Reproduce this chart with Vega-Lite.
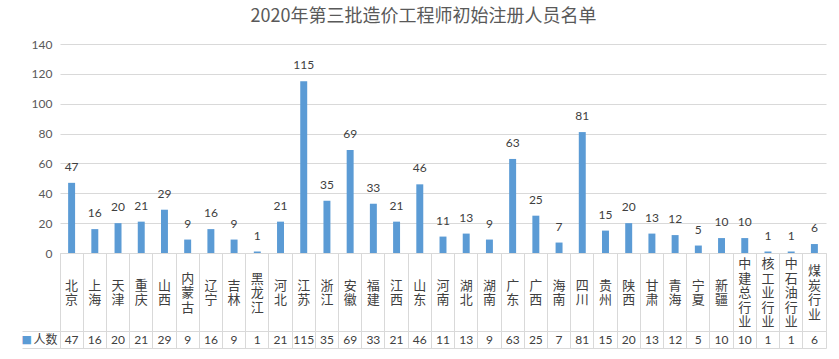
{
  "$schema": "https://vega.github.io/schema/vega-lite/v6.json",
  "background": "white",
  "padding": {"left": 20, "top": 8, "right": 5, "bottom": 5},
  "title": {
    "text": "2020年第三批造价工程师初始注册人员名单",
    "fontSize": 18,
    "fontWeight": "normal",
    "color": "#595959",
    "font": "Noto Sans CJK SC",
    "anchor": "middle",
    "offset": 12
  },
  "data": {
    "values": [
      {"name": "北京", "value": 47},
      {"name": "上海", "value": 16},
      {"name": "天津", "value": 20},
      {"name": "重庆", "value": 21},
      {"name": "山西", "value": 29},
      {"name": "内蒙古", "value": 9},
      {"name": "辽宁", "value": 16},
      {"name": "吉林", "value": 9},
      {"name": "黑龙江", "value": 1},
      {"name": "河北", "value": 21},
      {"name": "江苏", "value": 115},
      {"name": "浙江", "value": 35},
      {"name": "安徽", "value": 69},
      {"name": "福建", "value": 33},
      {"name": "江西", "value": 21},
      {"name": "山东", "value": 46},
      {"name": "河南", "value": 11},
      {"name": "湖北", "value": 13},
      {"name": "湖南", "value": 9},
      {"name": "广东", "value": 63},
      {"name": "广西", "value": 25},
      {"name": "海南", "value": 7},
      {"name": "四川", "value": 81},
      {"name": "贵州", "value": 15},
      {"name": "陕西", "value": 20},
      {"name": "甘肃", "value": 13},
      {"name": "青海", "value": 12},
      {"name": "宁夏", "value": 5},
      {"name": "新疆", "value": 10},
      {"name": "中建总行业", "value": 10},
      {"name": "核工业行业", "value": 1},
      {"name": "中石油行业", "value": 1},
      {"name": "煤炭行业", "value": 6}
    ]
  },
  "spacing": 0,
  "bounds": "flush",
  "vconcat": [
    {
      "width": 766,
      "height": 209,
      "encoding": {
        "x": {
          "field": "name",
          "type": "nominal",
          "sort": null,
          "scale": {"type": "band", "paddingInner": 0.7, "paddingOuter": 0.35},
          "axis": null
        },
        "y": {
          "field": "value",
          "type": "quantitative",
          "scale": {"domain": [0, 140], "nice": false},
          "axis": {
            "title": null,
            "values": [0, 20, 40, 60, 80, 100, 120, 140],
            "tickCount": 8,
            "grid": true,
            "gridColor": "#d9d9d9",
            "domain": false,
            "ticks": false,
            "labelPadding": 8,
            "labelFontSize": 12,
            "labelColor": "#595959",
            "labelFont": "Lato"
          }
        }
      },
      "layer": [
        {
          "mark": {"type": "bar", "color": "#5b9bd5"}
        },
        {
          "mark": {"type": "text", "baseline": "alphabetic", "dy": -12, "fontSize": 12, "color": "#404040", "font": "Lato"},
          "encoding": {
            "text": {"field": "value", "type": "quantitative"}
          }
        }
      ]
    },
    {
      "width": 766,
      "height": 78,
      "view": {"stroke": "#d9d9d9"},
      "encoding": {
        "x": {
          "field": "name",
          "type": "nominal",
          "sort": null,
          "scale": {
            "type": "band",
            "paddingInner": 0,
            "paddingOuter": 0,
            "domain": ["北京", "上海", "天津", "重庆", "山西", "内蒙古", "辽宁", "吉林", "黑龙江", "河北", "江苏", "浙江", "安徽", "福建", "江西", "山东", "河南", "湖北", "湖南", "广东", "广西", "海南", "四川", "贵州", "陕西", "甘肃", "青海", "宁夏", "新疆", "中建总行业", "核工业行业", "中石油行业", "煤炭行业"]
          },
          "axis": {"title": null, "labels": false, "ticks": false, "domain": false, "grid": true, "gridColor": "#d9d9d9", "bandPosition": 0}
        },
        "text": {"value": {"expr": "split(datum.name, '')"}}
      },
      "layer": [
        {
          "transform": [{"filter": {"not": {"field": "name", "oneOf": ["内蒙古", "黑龙江", "煤炭行业", "中建总行业", "核工业行业", "中石油行业"]}}}],
          "mark": {"type": "text", "fontSize": 13, "lineHeight": 14.5, "baseline": "middle", "dy": -6.25, "color": "#404040", "font": "Noto Sans CJK SC"}
        },
        {
          "transform": [{"filter": {"field": "name", "oneOf": ["内蒙古", "黑龙江"]}}],
          "mark": {"type": "text", "fontSize": 13, "lineHeight": 14.5, "baseline": "middle", "dy": -13.5, "color": "#404040", "font": "Noto Sans CJK SC"}
        },
        {
          "transform": [{"filter": {"field": "name", "oneOf": ["煤炭行业"]}}],
          "mark": {"type": "text", "fontSize": 13, "lineHeight": 14.5, "baseline": "middle", "dy": -20.75, "color": "#404040", "font": "Noto Sans CJK SC"}
        },
        {
          "transform": [{"filter": {"field": "name", "oneOf": ["中建总行业", "核工业行业", "中石油行业"]}}],
          "mark": {"type": "text", "fontSize": 13, "lineHeight": 14.5, "baseline": "middle", "dy": -28, "color": "#404040", "font": "Noto Sans CJK SC"}
        }
      ]
    },
    {
      "width": 766,
      "height": 17,
      "view": {"stroke": "#d9d9d9"},
      "mark": {"type": "text", "fontSize": 12, "color": "#404040", "font": "Lato"},
      "encoding": {
        "x": {
          "field": "name",
          "type": "nominal",
          "sort": null,
          "scale": {"type": "band", "paddingInner": 0, "paddingOuter": 0},
          "axis": {"title": null, "labels": false, "ticks": false, "domain": false, "grid": true, "gridColor": "#d9d9d9", "bandPosition": 0}
        },
        "y": {
          "datum": "人数",
          "type": "nominal",
          "scale": {"type": "band", "paddingInner": 0, "paddingOuter": 0},
          "axis": {
            "title": "■",
            "titleColor": "#5b9bd5",
            "titleFontSize": 11,
            "titleFont": "DejaVu Sans",
            "titleFontWeight": "normal",
            "titleAngle": 0,
            "titleAlign": "right",
            "titleBaseline": "middle",
            "titlePadding": -10,
            "labelPadding": -35,
            "labelFontSize": 12,
            "labelColor": "#404040",
            "labelFont": "Noto Sans CJK SC",
            "tickBand": "extent",
            "tickSize": 38,
            "tickColor": "#d9d9d9",
            "domain": false,
            "grid": false
          }
        },
        "text": {"field": "value", "type": "quantitative"}
      }
    }
  ],
  "config": {"view": {"stroke": null}}
}
